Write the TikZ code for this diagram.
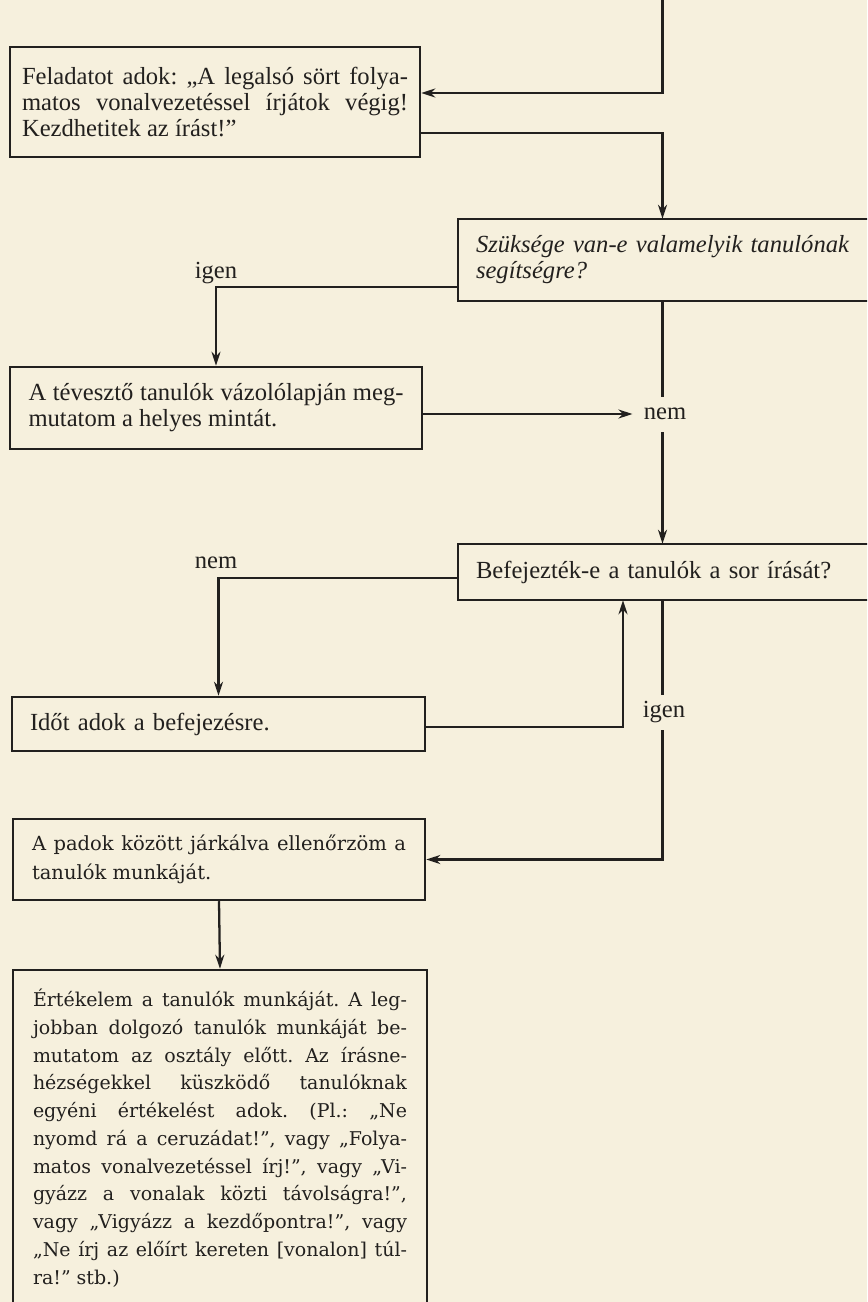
\documentclass[tikz,border=0pt]{standalone}
\usepackage{fontspec}
\setmainfont{Liberation Serif}
\newfontfamily\centfont{DejaVu Serif}
\usepackage{tikz}
\usetikzlibrary{arrows.meta, positioning, calc}
\definecolor{paper}{RGB}{246,240,221}
\definecolor{ink}{RGB}{34,32,30}
\frenchspacing

\begin{document}
\begin{tikzpicture}[font=\fontsize{14}{14.8}\selectfont, text=ink,
    box/.style={draw=ink, line width=1.4pt, align=justify, inner ysep=0pt},
    openbox/.style={box, draw=none},
    lowbox/.style={box, font=\centfont\fontsize{10.8}{15.8}\selectfont},
    lbl/.style={fill=paper, inner xsep=2pt, minimum height=0.7cm},
    frame/.style={draw=ink, line width=1.4pt},
    arrow/.style={-{Stealth[length=2.8mm, width=1.8mm]}, draw=ink, line width=1.3pt}
]
\useasboundingbox (0,0) rectangle (17.34,-26.04);
\fill[paper] (0,0) rectangle (17.34,-26.04);
\clip (0,0) rectangle (17.34,-26.04);
% left column
\node[box, text width=7.72cm, inner xsep=0.24cm, minimum height=2.2cm] (b1) at (4.30,-2.04)
    {Feladatot adok: „A legalsó sört folya-\linebreak matos vonalvezetéssel írjátok végig!\linebreak Kezdhetitek az írást!”};
\node[box, text width=7.5cm, inner xsep=0.37cm, minimum height=1.64cm] (b3) at (4.32,-8.16)
    {A tévesztő tanulók vázolólapján meg-\linebreak mutatom a helyes mintát.};
\node[box, text width=7.54cm, inner xsep=0.36cm, minimum height=1.08cm, align=left] (b5) at (4.37,-14.48)
    {Időt adok a befejezésre.};
\node[lowbox, text width=7.48cm, inner xsep=0.38cm, minimum height=1.62cm,
    font=\centfont\fontsize{11.1}{16.8}\selectfont] (b6) at (4.38,-17.19)
    {A padok között járkálva ellenőrzöm a\linebreak tanulók munkáját.};
\node[lowbox, text width=7.48cm, inner xsep=0.40cm, minimum height=6.72cm] (b7) at (4.40,-22.76)
    {Értékelem a tanulók munkáját. A leg-\linebreak jobban dolgozó tanulók munkáját be-\linebreak
     mutatom az osztály előtt. Az írásne-\linebreak hézségekkel küszködő tanulóknak\linebreak
     egyéni értékelést adok. (Pl.: „Ne\linebreak nyomd rá a ceruzádat!”, vagy „Folya-\linebreak
     matos vonalvezetéssel írj!”, vagy „Vi-\linebreak gyázz a vonalak közti távolságra!”,\linebreak
     vagy „Vigyázz a kezdőpontra!”, vagy\linebreak „Ne írj az előírt kereten [vonalon] túl-\linebreak
     ra!” stb.)};
% right column (cut by the page edge)
\node[openbox, text width=7.46cm, inner xsep=0.34cm, minimum height=1.6cm] (b2) at (13.25,-5.2)
    {\itshape Szüksége van-e valamelyik tanulónak\linebreak segítségre?};
\node[openbox, text width=7.46cm, inner xsep=0.34cm, minimum height=1.08cm, align=left] (b4) at (13.25,-11.44)
    {Befejezték-e a tanulók a sor írását?};
\draw[frame] ([xshift=1cm]b2.north east) -- (b2.north west) -- (b2.south west) -- ([xshift=1cm]b2.south east);
\draw[frame] ([xshift=1cm]b4.north east) -- (b4.north west) -- (b4.south west) -- ([xshift=1cm]b4.south east);
% connectors
\coordinate (entry) at (13.25,0.2);
\draw[arrow] (entry) |- ([yshift=0.18cm]b1.east);
\draw[arrow] ([yshift=-0.62cm]b1.east) -| (b2.north);
\draw[arrow] ([yshift=-0.54cm]b2.west) -| (b3.north);
\draw[arrow] (b2.south) -- (b4.north);
\draw[arrow] ([yshift=-0.12cm]b4.west) -| (b5.north);
\draw[arrow] ([yshift=-0.06cm]b5.east) -| ([xshift=-0.79cm]b4.south);
\draw[arrow] (b4.south) |- (b6.east);
\draw[arrow] (b6.south) -- (b7.north);
% labels
\node (igenA) at (4.32,-5.46) {igen};
\node (nemB) at (4.32,-11.26) {nem};
\node[lbl] (nemA) at (13.3,-8.28) {nem};
\node[lbl] (igenB) at (13.28,-14.24) {igen};
\draw[arrow, shorten >=0.15cm] (b3.east |- nemA) -- (nemA.west);
\end{tikzpicture}
\end{document}
